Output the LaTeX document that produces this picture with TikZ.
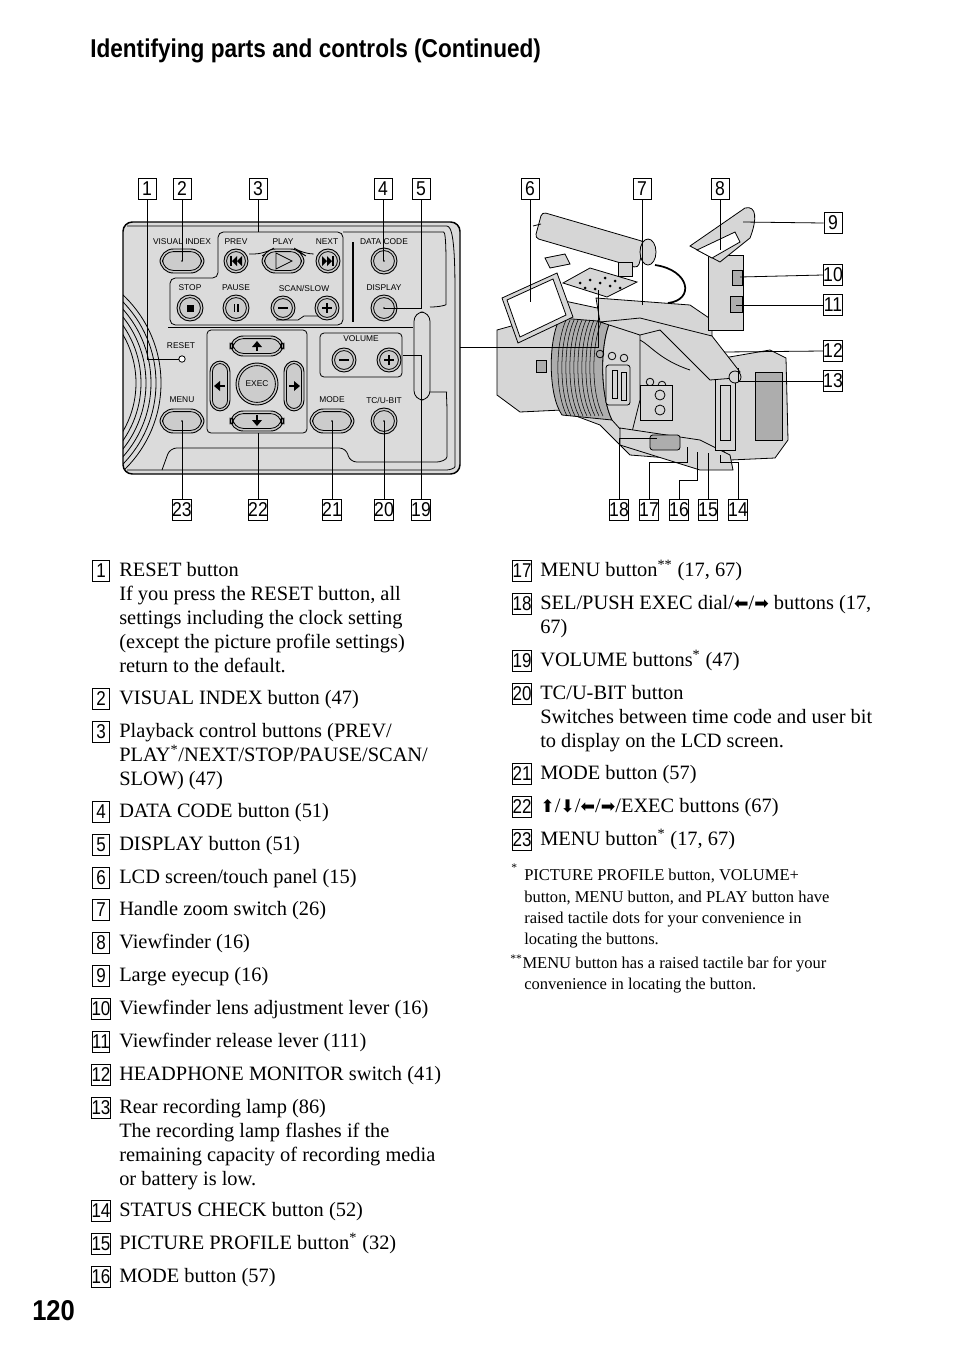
\documentclass[tikz,border=0pt]{standalone}
\usepackage{fontspec}
\setmainfont{Liberation Serif}
\newfontfamily\numf{Liberation Sans}
\newfontfamily\dv{DejaVu Sans}
\usepackage{graphicx}
\newcommand\ar[1]{{\dv\fontsize{13}{13}\selectfont #1}}
\newcommand\st{\textsuperscript{*}}
\newcommand\sst{\textsuperscript{**}}
\tikzset{
 nb/.style={draw,line width=0.7pt,inner sep=0pt,minimum width=13.5pt,minimum height=16pt,font=\numf\fontsize{15}{15}\selectfont},
 kb/.style={draw,line width=0.7pt,inner sep=0pt,minimum width=13pt,minimum height=15.5pt,font=\numf\fontsize{15}{15}\selectfont},
 tx/.style={anchor=base west,yshift=-4.2pt,inner sep=0pt,font=\fontsize{15.3}{18}\selectfont},
 fn/.style={anchor=base west,yshift=-3.4pt,inner sep=0pt,font=\fontsize{12.4}{15}\selectfont},
 pl/.style={inner sep=0pt,font=\numf\fontsize{6.3}{7}\selectfont},
 ld/.style={line width=0.6pt},
 bf/.style={fill=btn,draw=black,line width=0.7pt},
}
\definecolor{panel}{gray}{0.86}
\definecolor{btn}{gray}{0.80}
\definecolor{cam}{gray}{0.84}
\definecolor{camd}{gray}{0.68}
\newcommand\nb[3]{\node[nb] (#1) at (#2) {\scalebox{0.88}[1]{#3}};}
\newcommand\kb[3]{\node[kb] (#1) at (#2) {\raisebox{0.6pt}{\scalebox{0.85}[1]{#3}}};}
\newcommand\cb[2]{\draw[bf] (#1) circle (#2); \draw[line width=0.6pt] (#1) circle ({#2-2.6});}
\newcommand\pb[3]{\begin{scope}[shift={(#1)}]\draw[bf,rounded corners=10] (-#2,-#3) rectangle (#2,#3); \draw[line width=0.6pt,rounded corners=8] ({-#2+2.6},{-#3+2.6}) rectangle ({#2-2.6},{#3-2.6});\end{scope}}
\begin{document}
\begin{tikzpicture}[x=0.75pt,y=-0.75pt]
\useasboundingbox[fill=white] (0,0) rectangle (954,1357);
\node[anchor=base west,inner sep=0pt] (head) at (90,57) {\numf\bfseries\resizebox{338pt}{14pt}{Identifying parts and controls (Continued)}};
\node[anchor=base west,inner sep=0pt] (pg) at (32,1320) {\numf\bfseries\resizebox{32pt}{15pt}{120}};

% ===== panel =====
\draw[fill=panel,line width=1.1pt,rounded corners=7] (123,222) rectangle (460,474);
\begin{scope}
\clip[rounded corners=7] (123,222) rectangle (460,474);
\foreach \r in {96,101,106,111,116,121} \draw[line width=0.6pt] (40,383) circle (\r);
\end{scope}
\draw[line width=0.6pt,rounded corners=5] (127,226) -- (440,226) .. controls (452,226) and (455,240) .. (455,300) -- (455,460) .. controls (455,468) and (450,470) .. (440,470) -- (127,470);
\draw[line width=0.6pt,rounded corners=5] (343,232) -- (437,232) .. controls (445,232) and (446,240) .. (446,270) -- (446,298) .. controls (446,305) and (440,307) .. (430,307);
\draw[line width=0.6pt,rounded corners=5] (430,392) -- (440,392) .. controls (446,392) and (447,400) .. (447,420) -- (447,450) .. controls (447,460) and (440,462) .. (430,462) -- (350,462) -- (346,448) -- (170,448) -- (162,470);
\draw[line width=0.6pt,rounded corners=7] (414,312) rectangle (430,400);
\draw[line width=0.6pt,rounded corners=4] (218,278) -- (218,232) -- (343,232) -- (343,325) -- (170,325) -- (170,278) -- cycle;
\draw[line width=0.6pt] (168,327) -- (413,327);
\draw[line width=1.2pt] (353,242) -- (353,322);
\draw[line width=0.6pt,rounded corners=3] (207,330) rectangle (307,433);
\draw[line width=0.6pt,rounded corners=3] (320,333) rectangle (402,377);
\node[pl] (lvi) at (182,242) {VISUAL INDEX};
\node[pl] (lpr) at (236,242) {PREV};
\node[pl] (lpl) at (283,242) {PLAY};
\node[pl] (lne) at (327,242) {NEXT};
\node[pl] (ldc) at (384,242) {DATA CODE};
\node[pl] (lst) at (190,288) {STOP};
\node[pl] (lpa) at (236,288) {PAUSE};
\node[pl] (lss) at (304,288) {SCAN/SLOW};
\node[pl] (ldi) at (384,288) {DISPLAY};
\node[pl] (lre) at (181,346) {RESET};
\node[pl] (lvo) at (361,339) {VOLUME};
\node[pl] (lme) at (182,400) {MENU};
\node[pl] (lmo) at (332,400) {MODE};
\node[pl] (ltc) at (384,400) {TC/U-BIT};
\pb{182,261}{22}{12}
\draw[line width=0.6pt,rounded corners=8] (249,254) -- (265,254) -- (271,250) -- (297,250) -- (303,254) -- (313,254);
\cb{236,261}{12}
\pb{283,261}{21}{12}
\cb{328,261}{12}
\cb{384,261}{13}
\cb{190,308}{13}
\cb{236,308}{13}
\draw[line width=0.6pt] (276,320) -- (298,320) -- (304,316) -- (324,316);
\cb{283,308}{12}
\cb{327,308}{12}
\cb{384,308}{13}
\cb{344,360}{12}
\cb{389,360}{12}
\pb{182,421}{22}{12}
\pb{332,421}{22}{12}
\cb{384,421}{13}
\draw[fill=white,line width=0.6pt] (182,359) circle (3.2);
\pb{257,346}{27}{10}
\pb{257,421}{27}{10}
\draw[bf,rounded corners=8] (210,361) rectangle (230,411); \draw[line width=0.6pt,rounded corners=6] (212.5,363.5) rectangle (227.5,408.5);
\draw[bf,rounded corners=8] (284,361) rectangle (304,411); \draw[line width=0.6pt,rounded corners=6] (286.5,363.5) rectangle (301.5,408.5);
\cb{257,384}{21}
\node[pl] (lex) at (257,384) {EXEC};
\fill (257,341) -- (252,347) -- (262,347) -- cycle; \fill (256,346) rectangle (258,351);
\fill (257,426) -- (252,420) -- (262,420) -- cycle; \fill (256,415) rectangle (258,421);
\fill (214,386) -- (220,381) -- (220,391) -- cycle; \fill (219,385) rectangle (225,387);
\fill (300,386) -- (294,381) -- (294,391) -- cycle; \fill (289,385) rectangle (295,387);
\fill (186.5,304.5) rectangle (193.5,311.5);
\fill (233.5,304) rectangle (235,312); \fill (237,304) rectangle (238.5,312);
\draw[line width=0.8pt] (278,308) -- (288,308);
\draw[line width=0.8pt] (322,308) -- (332,308) (327,303) -- (327,313);
\draw[line width=0.8pt] (339,360) -- (349,360);
\draw[line width=0.8pt] (384,360) -- (394,360) (389,355) -- (389,365);
\draw[line width=0.6pt] (276,253) -- (292,261) -- (276,269) -- cycle;
\fill (230,256) rectangle (232,266); \fill (232,261) -- (237,256) -- (237,266) -- cycle; \fill (237,261) -- (242,256) -- (242,266) -- cycle;
\fill (334,256) rectangle (332,266); \fill (332,261) -- (327,256) -- (327,266) -- cycle; \fill (327,261) -- (322,256) -- (322,266) -- cycle;
\fill (182,261) circle (0.9); \fill (182,421) circle (0.9); \fill (332,421) circle (0.9); \fill (384,421) circle (0.9); \fill (384,261) circle (0.9); \fill (384,308) circle (0.9);

% ===== camera =====
\begin{scope}[line width=0.6pt]
\draw[fill=cam] (712,360) -- (770,350) -- (786,358) -- (788,440) -- (775,458) -- (730,460) -- (715,440) -- cycle;
\draw[fill=camd] (755,372) rectangle (782,440);
\draw[fill=cam] (560,300) -- (700,330) -- (730,360) -- (732,430) -- (720,462) -- (630,455) -- (600,425) -- (560,410) -- cycle;
\draw[fill=cam] (497,330) -- (540,318) -- (560,325) -- (562,410) -- (520,412) -- (497,395) -- cycle;
\draw[fill=camd] (536,360) rectangle (546,372);
\draw[fill=camd] (560,318) .. controls (548,340) and (548,395) .. (562,415) -- (612,420) .. controls (600,395) and (600,345) .. (610,322) -- cycle;
\foreach \x in {566,570,574,578,582,586,590,594,598,602}{\draw[line width=0.4pt] (\x,320) .. controls (\x-11,345) and (\x-11,393) .. (\x+1,416);}
\draw[fill=cam] (610,322) .. controls (600,345) and (600,395) .. (612,420) -- (630,440) -- (640,400) -- (640,335) -- cycle;
\draw[fill=cam,rounded corners=2] (606,365) rectangle (630,405);
\draw (612,370) rectangle (617,398); \draw (621,372) rectangle (626,400);
\foreach \p in {(600,354),(612,356),(624,358),(650,382),(662,385),(650,396),(650,410)} \draw \p circle (3.8);
\draw[fill=cam] (640,385) rectangle (672,420);
\draw (660,395) circle (5); \draw (660,410) circle (5);
\draw[fill=cam] (620,428) -- (700,440) -- (730,455) -- (733,470) -- (700,470) -- (620,445) -- cycle;
\draw[fill=camd,rounded corners=2] (650,435) rectangle (680,450);
\draw[fill=cam] (715,370) rectangle (735,450);
\draw (720,385) rectangle (730,440);
\draw[fill=cam] (596,298) -- (690,305) -- (712,320) -- (712,336) -- (660,330) -- (600,322) -- cycle;
\draw[fill=cam] (600,322) -- (640,335) -- (660,330) -- (710,380) -- (735,378) -- (740,372) -- (712,336) -- (640,318) -- cycle;
\draw (640,340) .. controls (650,345) and (660,360) .. (690,370);
\draw[fill=cam] (735,377) circle (6);
\draw[fill=cam,rounded corners=3] (542,212) -- (645,242) -- (638,268) -- (535,238) -- cycle;
\draw (533,226) -- (541,224);
\draw[fill=cam] (648,252) ellipse (8 and 13);
\draw[line width=1.3pt] (655,265) .. controls (690,270) and (695,300) .. (668,303);
\draw[fill=cam] (618,262) rectangle (632,276);
\draw[fill=cam] (545,258) -- (565,254) -- (570,264) -- (550,268) -- cycle;
\draw[fill=cam] (502,298) -- (557,273) -- (573,317) -- (518,343) -- cycle;
\draw[fill=white] (507,300) -- (553,279) -- (566,315) -- (520,337) -- cycle;
\draw[fill=cam] (563,283) -- (590,268) -- (637,282) -- (607,297) -- cycle;
\foreach \p in {(580,283),(590,280),(600,283),(610,286),(595,289),(605,278),(615,281),(585,288),(620,288)} \fill \p circle (1.5);
\draw[fill=cam] (708,255) rectangle (743,330);
\draw[fill=camd] (732,270) rectangle (742,285);
\draw[fill=camd] (730,296) rectangle (742,312);
\draw[fill=cam] (690,246) -- (745,208) .. controls (757,205) and (757,220) .. (750,238) -- (720,262) -- cycle;
\draw[fill=white] (697,250) -- (735,232) -- (740,242) -- (712,258) -- cycle;
\end{scope}

\nb{n1}{147,189}{1} \nb{n2}{182,189}{2} \nb{n3}{258,189}{3} \nb{n4}{383,189}{4} \nb{n5}{421,189}{5}
\nb{n23}{182,510}{23} \nb{n22}{258,510}{22} \nb{n21}{332,510}{21} \nb{n20}{384,510}{20} \nb{n19}{421,510}{19}
\nb{n6}{530,189}{6} \nb{n7}{642,189}{7} \nb{n8}{720,189}{8}
\nb{n9}{833,223}{9} \nb{n10}{833,275}{10} \nb{n11}{833,305}{11} \nb{n12}{833,351}{12} \nb{n13}{833,381}{13}
\nb{n18}{619,510}{18} \nb{n17}{649,510}{17} \nb{n16}{679,510}{16} \nb{n15}{708,510}{15} \nb{n14}{738,510}{14}
\coordinate (c1) at (179,359); \draw[ld] (n1.south) |- (c1);
\coordinate (c2) at (182,261); \draw[ld] (n2.south) -- (c2);
\coordinate (c3) at (258,232); \draw[ld] (n3.south) -- (c3);
\coordinate (c4) at (383,261); \draw[ld] (n4.south) -- (c4);
\coordinate (c5) at (384,308); \draw[ld] (n5.south) |- (c5);
\coordinate (c19) at (403,355); \draw[ld] (n19.north) |- (c19);
\coordinate (c20) at (384,421); \draw[ld] (n20.north) -- (c20);
\coordinate (c21) at (332,421); \draw[ld] (n21.north) -- (c21);
\coordinate (c22) at (258,433); \draw[ld] (n22.north) -- (c22);
\coordinate (c23) at (182,421); \draw[ld] (n23.north) -- (c23);
\coordinate (pa) at (460,347); \coordinate (pb) at (598,290); \draw[ld] (pa) -| (pb);
\coordinate (c6) at (530,302); \draw[ld] (n6.south) -- (c6);
\coordinate (c7) at (642,305); \draw[ld] (n7.south) -- (c7);
\coordinate (c8) at (720,250); \draw[ld] (n8.south) -- (c8);
\coordinate (c9) at (743,222); \draw[ld] (n9.west) -- (c9);
\coordinate (c10) at (740,277); \draw[ld] (n10.west) -- (c10);
\coordinate (c11) at (736,305); \draw[ld] (n11.west) -- (c11);
\coordinate (c12) at (724,352); \draw[ld] (n12.west) -- (c12);
\coordinate (c13) at (738,368); \draw[ld] (n13.west) -- (738,381) -- (c13);
\coordinate (c18) at (657,438); \draw[ld] (n18.north) |- (c18);
\coordinate (c17) at (687,447); \draw[ld] (n17.north) |- (687,462) -- (c17);
\coordinate (c16) at (697,452); \draw[ld] (n16.north) |- (697,480) -- (c16);
\coordinate (c15) at (708,453); \draw[ld] (n15.north) -- (c15);
\coordinate (c14) at (720,455); \draw[ld] (n14.north) |- (720,462) -- (c14);

\kb{k1}{101,571}{1} \kb{k2}{101,699}{2} \kb{k3}{101,732}{3} \kb{k4}{101,812}{4} \kb{k5}{101,845}{5}
\kb{k6}{101,878}{6} \kb{k7}{101,910}{7} \kb{k8}{101,943}{8} \kb{k9}{101,976}{9} \kb{k10}{101,1009}{10}
\kb{k11}{101,1042}{11} \kb{k12}{101,1075}{12} \kb{k13}{101,1108}{13} \kb{k14}{101,1211}{14} \kb{k15}{101,1244}{15} \kb{k16}{101,1277}{16}
\kb{k17}{522,571}{17} \kb{k18}{522,604}{18} \kb{k19}{522,661}{19} \kb{k20}{522,694}{20} \kb{k21}{522,774}{21} \kb{k22}{522,807}{22} \kb{k23}{522,840}{23}
\node[tx] (t1a) at (119,571) {RESET button};
\node[tx] (t1b) at (119,595) {If you press the RESET button, all};
\node[tx] (t1c) at (119,619) {settings including the clock setting};
\node[tx] (t1d) at (119,643) {(except the picture profile settings)};
\node[tx] (t1e) at (119,667) {return to the default.};
\node[tx] (t2) at (119,699) {VISUAL INDEX button (47)};
\node[tx] (t3a) at (119,732) {Playback control buttons (PREV/};
\node[tx] (t3b) at (119,756) {PLAY\st/NEXT/STOP/PAUSE/SCAN/};
\node[tx] (t3c) at (119,780) {SLOW) (47)};
\node[tx] (t4) at (119,812) {DATA CODE button (51)};
\node[tx] (t5) at (119,845) {DISPLAY button (51)};
\node[tx] (t6) at (119,878) {LCD screen/touch panel (15)};
\node[tx] (t7) at (119,910) {Handle zoom switch (26)};
\node[tx] (t8) at (119,943) {Viewfinder (16)};
\node[tx] (t9) at (119,976) {Large eyecup (16)};
\node[tx] (t10) at (119,1009) {Viewfinder lens adjustment lever (16)};
\node[tx] (t11) at (119,1042) {Viewfinder release lever (111)};
\node[tx] (t12) at (119,1075) {HEADPHONE MONITOR switch (41)};
\node[tx] (t13a) at (119,1108) {Rear recording lamp (86)};
\node[tx] (t13b) at (119,1132) {The recording lamp flashes if the};
\node[tx] (t13c) at (119,1156) {remaining capacity of recording media};
\node[tx] (t13d) at (119,1180) {or battery is low.};
\node[tx] (t14) at (119,1211) {STATUS CHECK button (52)};
\node[tx] (t15) at (119,1244) {PICTURE PROFILE button\st{} (32)};
\node[tx] (t16) at (119,1277) {MODE button (57)};
\node[tx] (t17) at (540,571) {MENU button\sst{} (17, 67)};
\node[tx] (t18a) at (540,604) {SEL/PUSH EXEC dial/\ar{⬅}/\ar{➡} buttons (17,};
\node[tx] (t18b) at (540,628) {67)};
\node[tx] (t19) at (540,661) {VOLUME buttons\st{} (47)};
\node[tx] (t20a) at (540,694) {TC/U-BIT button};
\node[tx] (t20b) at (540,718) {Switches between time code and user bit};
\node[tx] (t20c) at (540,742) {to display on the LCD screen.};
\node[tx] (t21) at (540,774) {MODE button (57)};
\node[tx] (t22) at (540,807) {\ar{⬆}/\ar{⬇}/\ar{⬅}/\ar{➡}/EXEC buttons (67)};
\node[tx] (t23) at (540,840) {MENU button\st{} (17, 67)};
\node[fn] (f0) at (511,873) {\textsuperscript{*}};
\node[fn] (f1) at (524,876) {PICTURE PROFILE button, VOLUME+};
\node[fn] (f2) at (524,898) {button, MENU button, and PLAY button have};
\node[fn] (f3) at (524,919) {raised tactile dots for your convenience in};
\node[fn] (f4) at (524,940) {locating the buttons.};
\node[fn] (f5) at (510,964) {\textsuperscript{**}MENU button has a raised tactile bar for your};
\node[fn] (f6) at (524,985) {convenience in locating the button.};
\end{tikzpicture}
\end{document}
